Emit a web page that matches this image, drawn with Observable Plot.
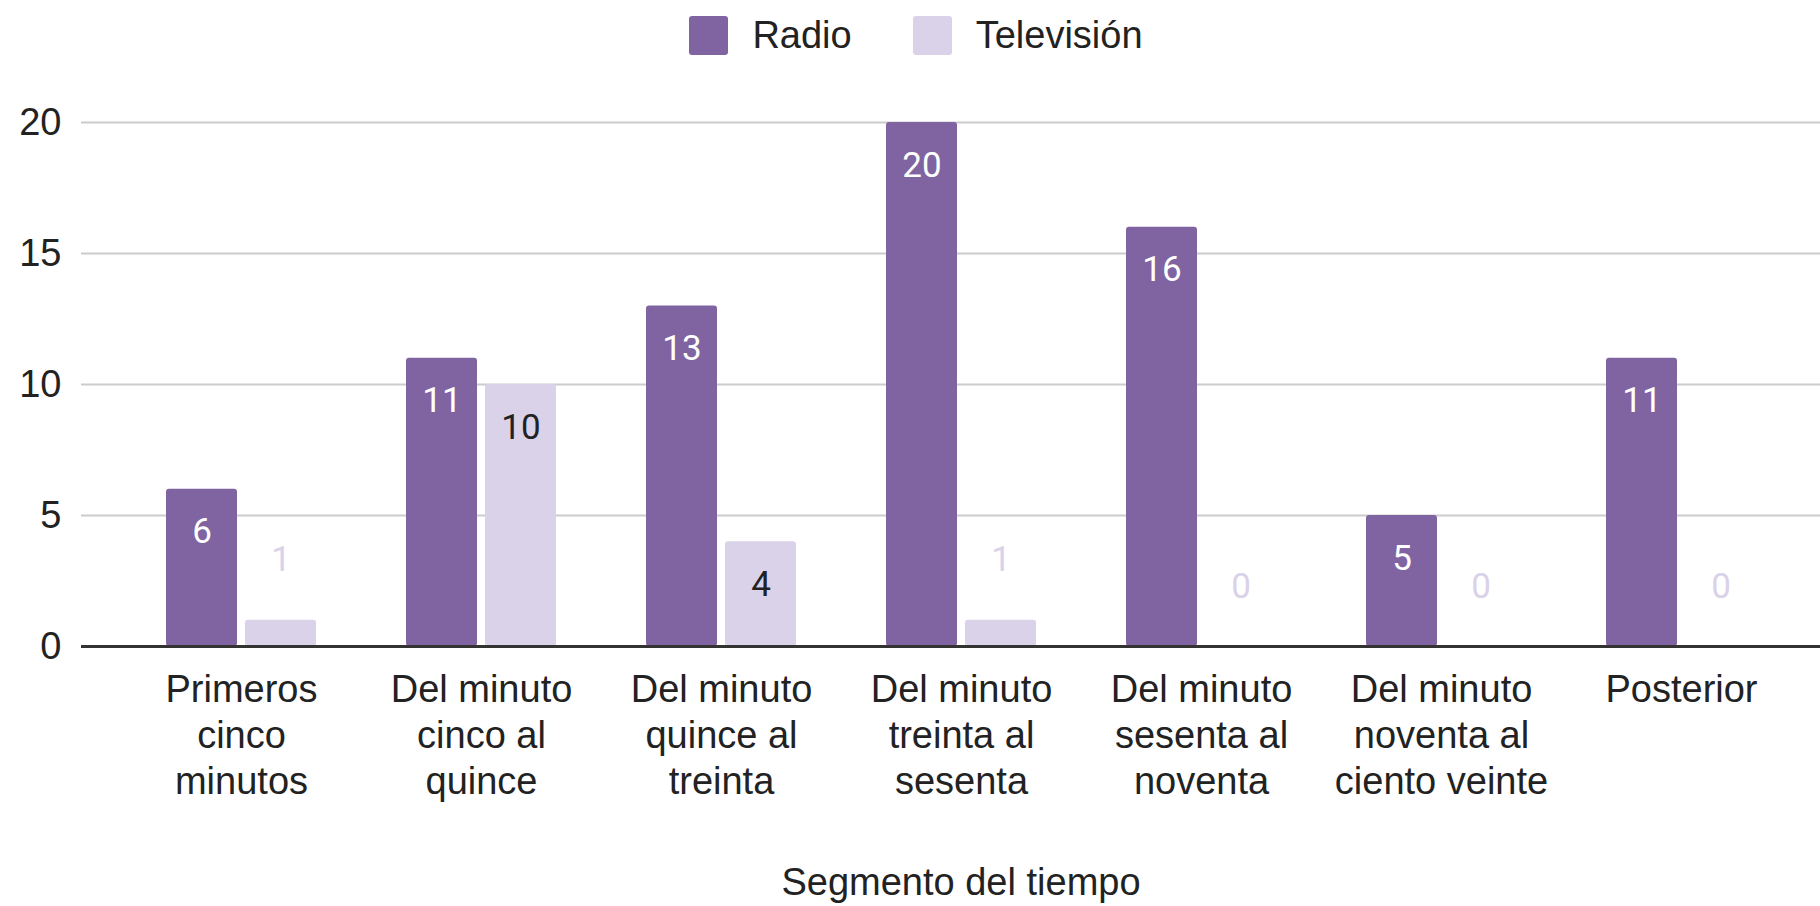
<!DOCTYPE html>
<html>
<head>
<meta charset="utf-8">
<script src="https://cdn.jsdelivr.net/npm/d3@7"></script>
<script src="https://cdn.jsdelivr.net/npm/@observablehq/plot@0.6"></script>
<style>
  body { margin: 0; background: #fff; font-family: "Liberation Sans", Arial, sans-serif; }
  #legend { height: 70px; display: flex; align-items: center; justify-content: center; padding-left: 12px; box-sizing: border-box; }
  .sw { width: 39px; height: 39px; border-radius: 3px; }
  .lab { font-size: 38px; color: #222; margin-left: 24px; margin-right: 61px; }
  .lab:last-child { margin-right: 0; }
  #chart svg { display: block; }
</style>
</head>
<body>
<div id="legend"></div>
<div id="chart"></div>
<script>
const categories = [
  "Primeros cinco minutos",
  "Del minuto cinco al quince",
  "Del minuto quince al treinta",
  "Del minuto treinta al sesenta",
  "Del minuto sesenta al noventa",
  "Del minuto noventa al ciento veinte",
  "Posterior"
];
const tickLabels = [
  "Primeros\ncinco\nminutos",
  "Del minuto\ncinco al\nquince",
  "Del minuto\nquince al\ntreinta",
  "Del minuto\ntreinta al\nsesenta",
  "Del minuto\nsesenta al\nnoventa",
  "Del minuto\nnoventa al\nciento veinte",
  "Posterior"
];
const seriesNames = ["Radio", "Televisión"];
const radioValues = [6, 11, 13, 20, 16, 5, 11];
const tvValues = [1, 10, 4, 1, 0, 0, 0];
const seriesColors = ["#8064a2", "#d9d2e9"];
const yTicks = [0, 5, 10, 15, 20];
const xTitle = "Segmento del tiempo";

// legend
const legend = document.getElementById("legend");
seriesNames.forEach((name, i) => {
  const sw = document.createElement("div");
  sw.className = "sw";
  sw.style.background = seriesColors[i];
  const lab = document.createElement("div");
  lab.className = "lab";
  lab.textContent = name;
  legend.appendChild(sw);
  legend.appendChild(lab);
});

const rows = categories.flatMap((c, i) => [
  {segmento: c, serie: seriesNames[0], value: radioValues[i]},
  {segmento: c, serie: seriesNames[1], value: tvValues[i]}
]);
const radio = rows.filter(d => d.serie === seriesNames[0]);
const tv = rows.filter(d => d.serie === seriesNames[1]);
const fitsInside = d => d.value >= 3;
const labelFont = "Roboto, sans-serif";
const axisFont = 38;

const chart = Plot.plot({
  width: 1820,
  height: 836,
  marginLeft: 81,
  marginRight: 0,
  marginTop: 52,
  marginBottom: 260,
  style: {fontFamily: "'Liberation Sans', Arial, sans-serif", fontSize: axisFont + "px", color: "#222", background: "#fff"},
  x: {type: "band", domain: categories, paddingInner: 0.375, paddingOuter: 0.1875, insetLeft: 40, insetRight: 19, label: null},
  y: {domain: [0, 20], label: null},
  marks: [
    Plot.gridY(yTicks, {stroke: "#cccccc", strokeOpacity: 1, strokeWidth: 2}),
    Plot.axisY(yTicks, {tickSize: 0, tickPadding: 20, fontSize: axisFont, fill: "#222", label: null}),
    Plot.axisX({tickSize: 0, tickPadding: 23, fontSize: axisFont, lineHeight: 1.21, fill: "#222", label: null,
      tickFormat: d => tickLabels[categories.indexOf(d)]}),
    Plot.barY(radio, {x: "segmento", y: "value", fill: seriesColors[0], insetRight: 79, rx: 3}),
    Plot.barY(tv, {x: "segmento", y: "value", fill: seriesColors[1], insetLeft: 79, rx: 3}),
    Plot.ruleY([0], {stroke: "#333", strokeWidth: 3}),
    Plot.text(radio, {x: "segmento", y: "value", text: d => String(d.value), dx: -39.5, dy: 54,
      lineAnchor: "bottom", fill: "#ffffff", fontFamily: labelFont, fontSize: 35}),
    Plot.text(tv.filter(fitsInside), {x: "segmento", y: "value", text: d => String(d.value), dx: 39.5, dy: 54,
      lineAnchor: "bottom", fill: "#222", fontFamily: labelFont, fontSize: 35}),
    Plot.text(tv.filter(d => !fitsInside(d)), {x: "segmento", y: "value", text: d => String(d.value), dx: 39.5, dy: -49,
      lineAnchor: "bottom", fill: seriesColors[1], fontFamily: labelFont, fontSize: 35}),
    Plot.text([xTitle], {frameAnchor: "bottom", dy: 248, dx: 10, lineAnchor: "bottom", fontSize: axisFont, fill: "#222"})
  ]
});
document.getElementById("chart").appendChild(chart);
</script>
</body>
</html>
